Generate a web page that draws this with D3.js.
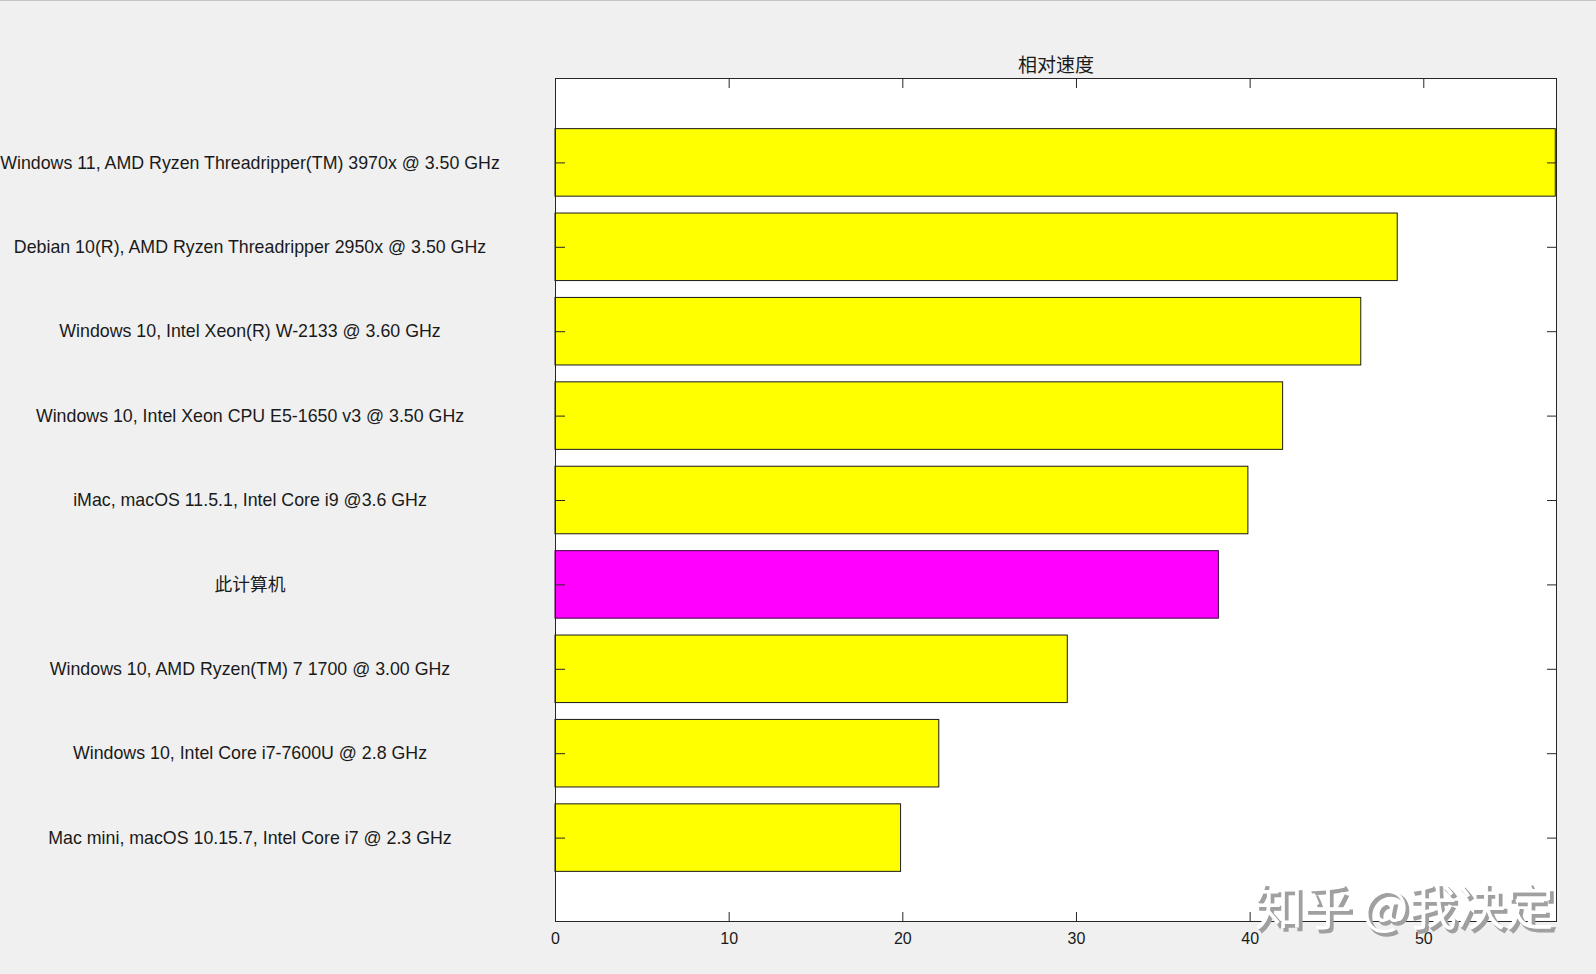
<!DOCTYPE html>
<html><head><meta charset="utf-8">
<script src="https://cdn.jsdelivr.net/npm/d3@7/dist/d3.min.js"></script>
<style>
html,body{margin:0;padding:0;background:#f0f0f0;overflow:hidden}
svg{display:block}
</style></head>
<body>
<script>
const categories = [
  "Windows 11, AMD Ryzen Threadripper(TM) 3970x @ 3.50 GHz",
  "Debian 10(R), AMD Ryzen Threadripper 2950x @ 3.50 GHz",
  "Windows 10, Intel Xeon(R) W-2133 @ 3.60 GHz",
  "Windows 10, Intel Xeon CPU E5-1650 v3 @ 3.50 GHz",
  "iMac, macOS 11.5.1, Intel Core i9 @3.6 GHz",
  "此计算机",
  "Windows 10, AMD Ryzen(TM) 7 1700 @ 3.00 GHz",
  "Windows 10, Intel Core i7-7600U @ 2.8 GHz",
  "Mac mini, macOS 10.15.7, Intel Core i7 @ 2.3 GHz"
];
const speeds = [57.6, 48.5, 46.4, 41.9, 39.9, 38.2, 29.5, 22.1, 19.9];
const isThisComputer = [false, false, false, false, false, true, false, false, false];
const xTicks = [0, 10, 20, 30, 40, 50];
const xMax = 57.7;
const title = "相对速度";
const watermark = "知乎 @我决定";

const W = 1596, H = 974;
const L = 555, R = 1557, T = 78, B = 922;
const svg = d3.select("body").append("svg").attr("width", W).attr("height", H);
svg.append("rect").attr("width", W).attr("height", H).attr("fill", "#f0f0f0");
svg.append("line").attr("x1",0).attr("x2",W).attr("y1",0.5).attr("y2",0.5).attr("stroke","#c4c4c4");

const x = d3.scaleLinear().domain([0, xMax]).range([L, R]);
const y = d3.scaleLinear().domain([0, categories.length + 1]).range([T, B]);
const step = y(1) - y(0);
const bh = step * 0.8;
const axisColor = "#262626";

svg.append("rect").attr("x", L).attr("y", T).attr("width", R - L).attr("height", B - T).attr("fill", "#fff");

// bars
svg.append("g").selectAll("rect").data(speeds).join("rect")
  .attr("x", x(0))
  .attr("y", (d, i) => y(i + 1) - bh / 2)
  .attr("width", d => x(d) - x(0))
  .attr("height", bh)
  .attr("fill", (d, i) => isThisComputer[i] ? "#ff00ff" : "#ffff00")
  .attr("stroke", (d, i) => isThisComputer[i] ? "#3a0040" : "#1a1a1a")
  .attr("stroke-width", 1);

function styleAxis(g) {
  g.select(".domain").remove();
  g.selectAll(".tick line").attr("stroke", axisColor);
  g.selectAll(".tick text").attr("fill", "#1a1a1a");
}
const font = "'Liberation Sans', Arial, 'Noto Sans CJK SC', sans-serif";

svg.append("g").attr("transform", `translate(0,${B})`)
  .call(d3.axisBottom(x).tickValues(xTicks).tickSizeInner(-10).tickSizeOuter(0).tickPadding(11))
  .call(styleAxis)
  .call(g => g.selectAll(".tick text").attr("font-family", font).attr("font-size", 16));
svg.append("g").attr("transform", `translate(0,${T})`)
  .call(d3.axisTop(x).tickValues(xTicks).tickSizeInner(-10).tickSizeOuter(0).tickFormat(""))
  .call(styleAxis);
const yTickVals = categories.map((c, i) => i + 1);
svg.append("g").attr("transform", `translate(${L},0)`)
  .call(d3.axisLeft(y).tickValues(yTickVals).tickSizeInner(-10).tickSizeOuter(0).tickFormat(""))
  .call(styleAxis);
svg.append("g").attr("transform", `translate(${R},0)`)
  .call(d3.axisRight(y).tickValues(yTickVals).tickSizeInner(-10).tickSizeOuter(0).tickFormat(""))
  .call(styleAxis);

// box
svg.append("rect").attr("x", L + 0.5).attr("y", T + 0.5).attr("width", R - L - 1).attr("height", B - T - 1)
  .attr("fill", "none").attr("stroke", axisColor).attr("stroke-width", 1);

// category labels
svg.append("g").selectAll("text").data(categories).join("text")
  .attr("x", 250)
  .attr("y", (d, i) => y(i + 1))
  .attr("dy", "0.35em")
  .attr("text-anchor", "middle")
  .attr("font-family", font)
  .attr("font-size", 17.8)
  .attr("fill", "#1a1a1a")
  .text(d => d);

// title
svg.append("text").attr("x", (L + R) / 2).attr("y", 65).attr("dy", "0.35em")
  .attr("text-anchor", "middle").attr("font-family", "'Noto Sans CJK SC', sans-serif")
  .attr("font-size", 19).attr("fill", "#1a1a1a").text(title);

// watermark
const wm = svg.append("g").attr("font-family", "'Noto Sans CJK SC', sans-serif")
  .attr("font-size", 48.5).attr("text-anchor", "end");
wm.append("text").attr("x", 1557).attr("y", 928).attr("fill", "#a0a0a0").attr("stroke", "#a0a0a0").attr("stroke-width", 1.5).text(watermark);
wm.append("text").attr("x", 1554).attr("y", 925).attr("fill", "#ffffff").text(watermark);
</script>
</body></html>
